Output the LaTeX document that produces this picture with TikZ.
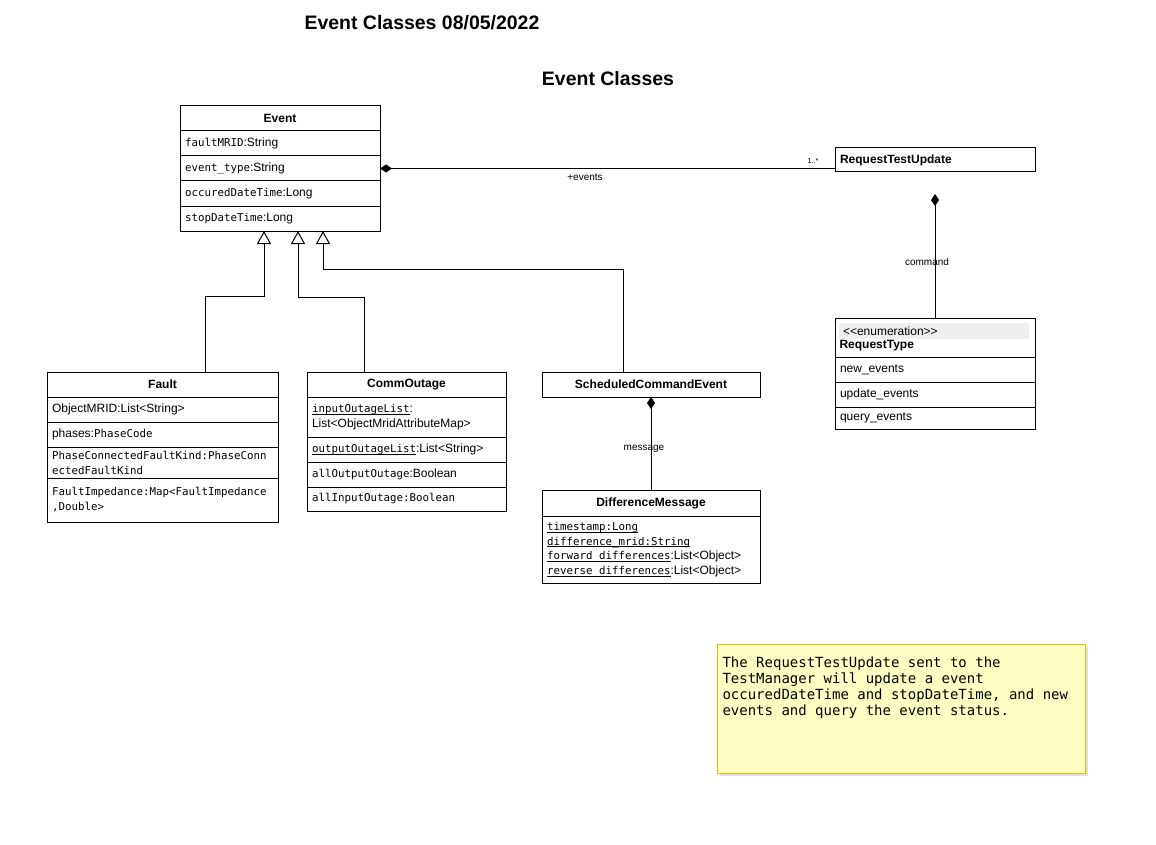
\documentclass[tikz,border=0pt]{standalone}
\usepackage{fontspec}
\setmainfont{Liberation Sans}
\setmonofont{DejaVu Sans Mono}
\usetikzlibrary{arrows.meta,shadows}

\definecolor{bandgray}{RGB}{239,239,239}
\definecolor{notefill}{RGB}{255,255,196}
\definecolor{noteline}{RGB}{204,204,0}
\newcommand{\mono}[1]{{\fontsize{8.1}{11}\selectfont\ttfamily #1}}
\newcommand{\ulmono}[1]{\leavevmode\setbox0\hbox{\mono{#1}}\rlap{\rule[-1.4pt]{\wd0}{0.5pt}}\box0}

\tikzset{every picture/.style={line width=0.75pt}}
\tikzset{
  umlrow/.style={draw, fill=white, anchor=north west, outer sep=0pt, inner xsep=3.75pt, inner ysep=0pt, align=left, font=\fontsize{9}{11.25}\selectfont},
  umlhead/.style={umlrow, align=center, font=\bfseries\fontsize{9}{11.25}\selectfont},
  inherit/.style={-{Triangle[open,fill=white,length=9.75pt,width=10.5pt]}},
  compose/.style={{Diamond[length=9pt,width=6pt]}-},
  assoclabel/.style={inner sep=0pt, font=\fontsize{7.5}{9}\selectfont},
  bigtitle/.style={inner sep=0pt, font=\bfseries\fontsize{14.6}{17}\selectfont},
}

\begin{document}
\begin{tikzpicture}[x=0.75pt,y=0.75pt,yscale=-1,xscale=1,
  evrow/.style={umlrow, text width=142.5pt},
  fltrow/.style={umlrow, text width=165.75pt},
  corow/.style={umlrow, text width=141.75pt},
  dmrow/.style={umlrow, text width=156pt, font=\fontsize{9}{11}\selectfont},
  rqtrow/.style={umlrow, text width=142.5pt},
  notebox/.style={draw=noteline, fill=notefill, anchor=north west, outer sep=0pt,
    drop shadow={shadow xshift=2pt, shadow yshift=-2pt, opacity=0.25}}]
%set diagram left start at 0, and has size of 1156 x 845
\useasboundingbox (0,0) rectangle (1156,845);

% Text Node
\node (title) [bigtitle] at (422,23) {Event Classes 08/05/2022};
% Text Node
\node (subtitle) [bigtitle] at (608,79) {Event Classes};

%Shape: Class [Event]
\node (ev) [umlhead, minimum width=150pt, minimum height=18.75pt] at (180,106) {Event};
\node (ev1) [evrow, minimum height=18.75pt] at (180,131) {\mono{faultMRID}:String};
\node (ev2) [evrow, minimum height=18.75pt] at (180,156) {\mono{event\_type}:String};
\node (ev3) [evrow, minimum height=18.75pt] at (180,181) {\mono{occuredDateTime}:Long};
\node (ev4) [evrow, minimum height=18.75pt] at (180,206) {\mono{stopDateTime}:Long};

%Shape: Class [Fault]
\node (flt) [umlhead, minimum width=173.25pt, minimum height=18.75pt] at (47,372) {Fault};
\node (flt1) [fltrow, minimum height=18.75pt] at (47,397) {ObjectMRID:List<String>};
\node (flt2) [fltrow, minimum height=18.75pt] at (47,422) {phases:\mono{PhaseCode}};
\node (flt3) [fltrow, minimum height=23.25pt] at (47,447) {\mono{PhaseConnectedFaultKind:PhaseConn}\\\mono{ectedFaultKind}};
\node (flt4) [fltrow, minimum height=33pt] at (47,478) {\mono{FaultImpedance:Map<FaultImpedance}\\\mono{,Double>}};

%Shape: Class [CommOutage]
\node (co) [umlhead, minimum width=149.25pt, minimum height=18.75pt] at (307,372) {CommOutage};
\node (co1) [corow, minimum height=30pt] at (307,397) {\ulmono{inputOutageList}:\\List<ObjectMridAttributeMap>};
\node (co2) [corow, minimum height=18.75pt] at (307,437) {\ulmono{outputOutageList}:List<String>};
\node (co3) [corow, minimum height=18.75pt] at (307,462) {\mono{allOutputOutage}:Boolean};
\node (co4) [corow, minimum height=18pt] at (307,487) {\mono{allInputOutage:Boolean}};

%Shape: Class [ScheduledCommandEvent]
\node (sce) [umlhead, minimum width=163.5pt, minimum height=18.75pt] at (542,372) {ScheduledCommandEvent};

%Shape: Class [DifferenceMessage]
\node (dm) [umlhead, minimum width=163.5pt, minimum height=19.5pt] at (542,490) {DifferenceMessage};
\node (dm1) [dmrow, minimum height=50.25pt] at (542,516) {\ulmono{timestamp:Long}\\\ulmono{difference\_mrid:String}\\\ulmono{forward\_differences}:List<Object>\\\ulmono{reverse\_differences}:List<Object>};

%Shape: Class [RequestTestUpdate]
\node (rtu) [rqtrow, minimum height=18pt, font=\bfseries\fontsize{9}{11.25}\selectfont] at (835,148) {RequestTestUpdate};

%Shape: Enumeration [RequestType]
\node (rqt) [umlrow, minimum width=150pt, minimum height=29.25pt] at (835,318) {};
\node (rqtst) [fill=bandgray, anchor=north west, outer sep=0pt, inner xsep=3pt, inner ysep=0pt, text width=136.5pt, minimum height=12pt, font=\fontsize{9}{11}\selectfont] at (839,323) {<{}<enumeration>{}>};
\node (rqtname) [anchor=west, inner sep=0pt, font=\bfseries\fontsize{9}{11}\selectfont] at (839,346) {RequestType};
\node (rqt1) [rqtrow, minimum height=18.75pt] at (835,357) {new\_events};
\node (rqt2) [rqtrow, minimum height=18.75pt] at (835,382) {update\_events};
\node (rqt3) [rqtrow, minimum height=16.5pt] at (835,407) {query\_events};

%Straight Lines [generalization]
\draw [inherit] (205,0 |- flt.north) -- (205,296) -| (264,0 |- ev4.south);
%Straight Lines [generalization]
\draw [inherit] (364,0 |- co.north) -- (364,297) -| (298,0 |- ev4.south);
%Straight Lines [generalization]
\draw [inherit] (623,0 |- sce.north) -- (623,269) -| (323,0 |- ev4.south);

%Straight Lines [composition]
\draw [compose] (ev2.east) -- (ev2.east -| rtu.west);
%Straight Lines [composition]
\draw [compose] (rqt.north |- 0,194) -- (rqt.north);
%Straight Lines [composition]
\draw [compose] (sce.south) -- (dm.north);

% Text Node
\node (evlbl) [assoclabel] at (585,177) {+events};
% Text Node
\node (multlbl) [inner sep=0pt, font=\fontsize{5.5}{7}\selectfont] at (813,161) {1..*};
% Text Node
\node (cmdlbl) [assoclabel] at (927,262) {command};
% Text Node
\node (msglbl) [assoclabel] at (644,449) {message};

%Shape: Note
\node (note) [notebox, minimum width=276pt, minimum height=96.75pt] at (717,644) {};
% Text Node
\node (notetext) [anchor=north west, inner sep=0pt, align=left, font=\ttfamily\fontsize{10.5}{12}\selectfont] at (722,656) {The RequestTestUpdate sent to the\\TestManager will update a event\\occuredDateTime and stopDateTime, and new\\events and query the event status.};

\end{tikzpicture}
\end{document}
